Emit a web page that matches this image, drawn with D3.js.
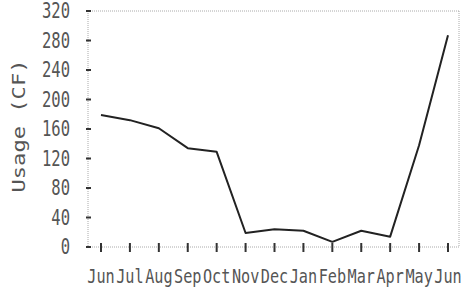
<!DOCTYPE html>
<html>
<head>
<meta charset="utf-8">
<script src="https://cdn.jsdelivr.net/npm/d3@7"></script>
<style>
  body { margin: 0; background: #fff; }
  text { fill: #555; font-family: "DejaVu Sans Mono", monospace; }
</style>
</head>
<body>
<div id="chart"></div>
<script>
const months = ["Jun","Jul","Aug","Sep","Oct","Nov","Dec","Jan","Feb","Mar","Apr","May","Jun"];
const usage = [179, 172, 161, 134, 129, 19, 24, 22, 7, 22, 14, 138, 287];
const yTicks = [0, 40, 80, 120, 160, 200, 240, 280, 320];

const width = 467, height = 290;
const plotLeft = 88, plotRight = 459, plotTop = 11, plotBottom = 247;

const svg = d3.select("#chart").append("svg")
    .attr("width", width)
    .attr("height", height);

const x = d3.scaleLinear().domain([0, months.length - 1]).range([101, 448]);
const y = d3.scaleLinear().domain([0, 320]).range([plotBottom, plotTop]);

// frame: dotted grey axis lines
svg.append("g")
    .selectAll("line")
    .data([
      [plotLeft, plotTop, plotRight, plotTop],
      [plotRight, plotTop, plotRight, plotBottom],
      [plotLeft, plotBottom, plotRight, plotBottom],
      [plotLeft, plotTop, plotLeft, plotBottom]
    ])
    .enter().append("line")
    .attr("x1", d => d[0]).attr("y1", d => d[1])
    .attr("x2", d => d[2]).attr("y2", d => d[3])
    .attr("stroke", "#aaa")
    .attr("stroke-width", 1)
    .attr("stroke-dasharray", "1,1");

// y ticks + labels (narrow look via horizontal squeeze)
const yg = svg.append("g");
yg.selectAll(".ytick")
    .data(yTicks)
    .enter().append("line")
    .attr("x1", plotLeft - 2).attr("x2", plotLeft + 3)
    .attr("y1", d => y(d)).attr("y2", d => y(d))
    .attr("stroke", "#333")
    .attr("stroke-width", 2);

yg.selectAll(".ylabel")
    .data(yTicks)
    .enter().append("text")
    .attr("transform", d => "translate(70," + (y(d) + 7) + ") scale(0.74,1)")
    .attr("text-anchor", "end")
    .attr("font-size", 21)
    .text(d => d);

// x ticks + labels
const xg = svg.append("g");
xg.selectAll(".xtick")
    .data(months)
    .enter().append("line")
    .attr("x1", (d, i) => x(i)).attr("x2", (d, i) => x(i))
    .attr("y1", plotBottom - 4).attr("y2", plotBottom + 5)
    .attr("stroke", "#333")
    .attr("stroke-width", 2);

xg.selectAll(".xlabel")
    .data(months)
    .enter().append("text")
    .attr("transform", (d, i) => "translate(" + x(i) + ",283) scale(0.8,1)")
    .attr("text-anchor", "middle")
    .attr("font-size", 19)
    .text(d => d);

// y axis title
svg.append("text")
    .attr("transform", "translate(25,126) rotate(-90)")
    .attr("text-anchor", "middle")
    .attr("font-size", 18)
    .attr("textLength", 133)
    .attr("lengthAdjust", "spacingAndGlyphs")
    .text("Usage (CF)");

// the line
const line = d3.line()
    .x((d, i) => x(i))
    .y(d => y(d));

svg.append("path")
    .datum(usage)
    .attr("d", line)
    .attr("fill", "none")
    .attr("stroke", "#222")
    .attr("stroke-width", 2)
    .attr("stroke-linejoin", "round");
</script>
</body>
</html>
